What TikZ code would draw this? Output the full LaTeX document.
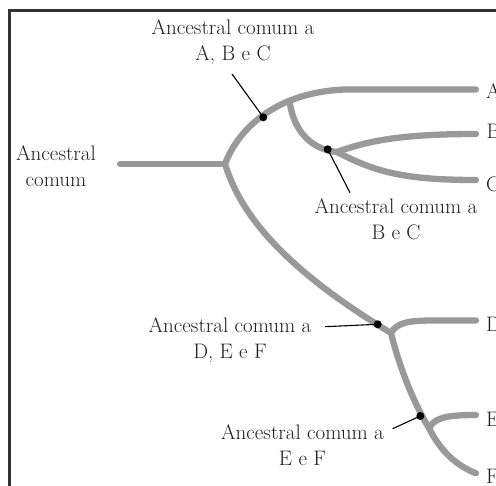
\documentclass[tikz,border=0pt]{standalone}
\usepackage{fontspec}
\begin{document}
\begin{tikzpicture}[x=1pt,y=-1pt,
  branch/.style={draw=black!40,line width=6.3pt,line cap=round,line join=round},
  pointer/.style={draw=black,line width=1.1pt},
  anc/.style={circle,fill=black,inner sep=0pt,minimum size=8pt},
  lbl/.style={inner sep=0pt,align=center,anchor=base,text=black!88,font=\fontsize{21}{26}\selectfont},
  tip/.style={inner sep=0pt,anchor=base west,text=black!88,font=\fontsize{21}{26}\selectfont},
  frame/.style={draw=black!80,line width=2.7pt}]
\useasboundingbox (0,0) rectangle (496,486);
% frame
\draw[frame] (9.7,490) -- (9.7,10.7) -- (500,10.7);
% tree coordinates
\coordinate (s0) at (120,164);
\coordinate (r) at (225,164);
\coordinate (abc) at (290,104);
\coordinate (bc) at (337,152);
\coordinate (def) at (391,333);
\coordinate (ef) at (429,428);
\coordinate (ea) at (476,89.5);
\coordinate (eb) at (476,134);
\coordinate (ec) at (476,180);
\coordinate (ed) at (476,320.5);
\coordinate (ee) at (476,415);
\coordinate (ef2) at (476,473.3);
% branches
\draw[branch] (s0) -- (r);
\draw[branch] (r) .. controls (240,125) and (280,92) .. (345,89.5) -- (ea);
\draw[branch] (abc) .. controls (295,135) and (315,150) .. (bc);
\draw[branch] (bc) .. controls (370,140) and (405,134) .. (eb);
\draw[branch] (bc) .. controls (375,172) and (405,180) .. (ec);
\draw[branch] (r) .. controls (238,205) and (270,260) .. (def);
\draw[branch] (def) .. controls (397,322) and (410,320.5) .. (435,320.5) -- (ed);
\draw[branch] (def) .. controls (400,370) and (415,405) .. (ef);
\draw[branch] (ef) .. controls (435,418) and (445,415) .. (ee);
\draw[branch] (ef) .. controls (440,450) and (455,465) .. (ef2);
% ancestor dots
\node[anc] (dabc) at (263.3,117.3) {};
\node[anc] (dbc) at (327.7,149.3) {};
\node[anc] (ddef) at (377.7,324.3) {};
\node[anc] (def2) at (420.3,416) {};
% labels (anchor = baseline of the last line)
\node[lbl] (lroot) at (56,187) {Ancestral\\comum};
\node[lbl] (labc) at (233,60.3) {Ancestral comum a\\A, B e C};
\node[lbl] (lbc) at (396,239.3) {Ancestral comum a\\B e C};
\node[lbl] (ldef) at (230,358.7) {Ancestral comum a\\D, E e F};
\node[lbl] (lef) at (302.5,466) {Ancestral comum a\\E e F};
% pointer ends
\coordinate (pabc) at (232,74);
\coordinate (pbc) at (350,192.7);
\coordinate (pdef) at (325,326.7);
\coordinate (pef) at (392.7,428.7);
\draw[pointer] (pabc) -- (dabc.center);
\draw[pointer] (pbc) -- (dbc.center);
\draw[pointer] (pdef) -- (ddef.center);
\draw[pointer] (pef) -- (def2.center);
% tips (cut by the right edge, as in the reference)
\node[tip] (ta) at (486,98.3) {A};
\node[tip] (tb) at (486.5,138.3) {B};
\node[tip] (tc) at (486,191.7) {C};
\node[tip] (td) at (486,331.7) {D};
\node[tip] (te) at (486,426.7) {E};
\node[tip] (tf) at (486,483.3) {F};
\end{tikzpicture}
\end{document}
